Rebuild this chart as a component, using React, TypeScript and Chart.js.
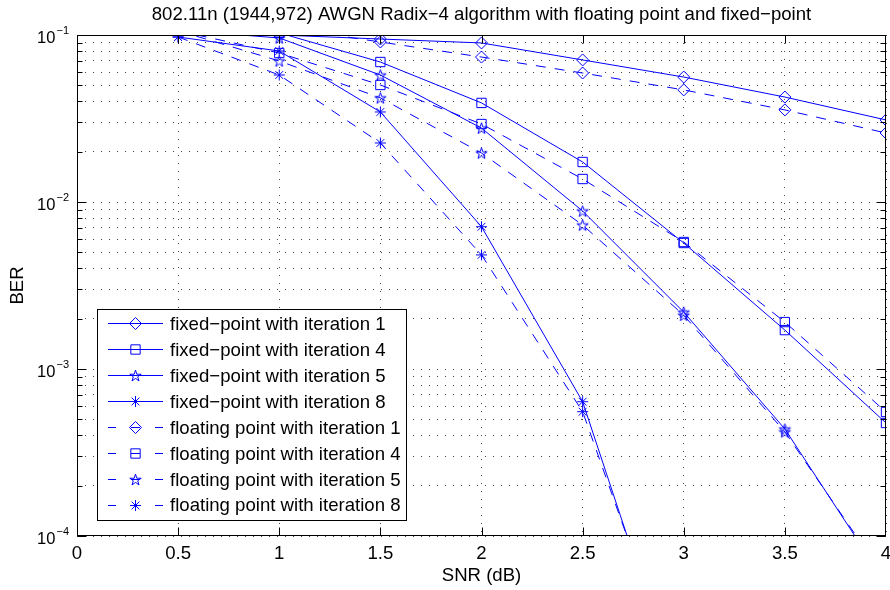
import React, { useEffect, useRef } from 'react';
import { Chart, registerables } from 'chart.js';
import { drawPoint } from 'chart.js/helpers';

Chart.register(...registerables);

// ---- data ----
const snrDb = [0.5, 1, 1.5, 2, 2.5, 3, 3.5, 4];

const fixedIter1 = [0.13, 0.1, 0.0946, 0.0896, 0.0709, 0.056, 0.0425, 0.031];
const fixedIter4 = [0.107, 0.103, 0.0689, 0.0392, 0.01736, 0.00568, 0.00171, 0.000475];
const fixedIter5 = [0.107, 0.096, 0.0576, 0.0277, 0.00883, 0.00219, 0.000437, 0.000052];
const fixedIter8 = [0.0973, 0.0802, 0.0346, 0.00711, 0.000637, 0.0000095, null, null];

const floatIter1 = [0.125, 0.112, 0.0908, 0.0738, 0.0592, 0.0469, 0.0356, 0.0259];
const floatIter4 = [0.106, 0.078, 0.0502, 0.0293, 0.01373, 0.00576, 0.00191, 0.000553];
const floatIter5 = [0.106, 0.0699, 0.042, 0.01965, 0.00728, 0.0021, 0.00042, 0.000055];
const floatIter8 = [0.0973, 0.0576, 0.02256, 0.00482, 0.000555, 0.000011, null, null];

const seriesLabels = [
  'fixed\u2212point with iteration 1',
  'fixed\u2212point with iteration 4',
  'fixed\u2212point with iteration 5',
  'fixed\u2212point with iteration 8',
  'floating point with iteration 1',
  'floating point with iteration 4',
  'floating point with iteration 5',
  'floating point with iteration 8',
];

const xTickValues = [0, 0.5, 1, 1.5, 2, 2.5, 3, 3.5, 4];
const yDecadeExponents = [-1, -2, -3, -4];

const titleText = '802.11n (1944,972) AWGN Radix\u22124 algorithm with floating point and fixed\u2212point';
const xTitle = 'SNR (dB)';
const yTitle = 'BER';

// ---- style ----
const BLUE = '#0000ff';
const FONT = '"Liberation Sans", Arial, Helvetica, sans-serif';
const GRID = 'rgba(40,40,40,0.85)';
const DASH = [10, 9];

function makePentagram(r: number, color: string): HTMLCanvasElement {
  const size = Math.ceil(2 * r + 3);
  const c = document.createElement('canvas');
  c.width = size;
  c.height = size;
  const ctx = c.getContext('2d')!;
  ctx.strokeStyle = color;
  ctx.lineWidth = 1;
  const cx = size / 2;
  const cy = size / 2 + r * 0.1;
  ctx.beginPath();
  for (let i = 0; i < 10; i++) {
    const ang = -Math.PI / 2 + (i * Math.PI) / 5;
    const rr = i % 2 === 0 ? r : r * 0.382;
    const x = cx + rr * Math.cos(ang);
    const y = cy + rr * Math.sin(ang);
    if (i === 0) ctx.moveTo(x, y);
    else ctx.lineTo(x, y);
  }
  ctx.closePath();
  ctx.stroke();
  return c;
}

export default function App() {
  const ref = useRef<HTMLCanvasElement>(null);

  useEffect(() => {
    document.body.style.margin = '0';
    const canvas = ref.current!;
    const pent = makePentagram(6, BLUE);

    const seriesValues = [fixedIter1, fixedIter4, fixedIter5, fixedIter8, floatIter1, floatIter4, floatIter5, floatIter8];
    const markerStyles: any[] = ['rectRot', 'rect', pent, 'star', 'rectRot', 'rect', pent, 'star'];
    const markerRadii = [6, 6.6, 6, 5.5, 6, 6.6, 6, 5.5];

    const datasets = seriesValues.map((vals, i) => ({
      label: seriesLabels[i],
      data: snrDb.map((x, j) => ({ x, y: vals[j] })),
      borderColor: BLUE,
      borderWidth: 1,
      borderDash: i >= 4 ? DASH : [],
      pointStyle: markerStyles[i],
      pointRadius: markerRadii[i],
      pointBorderColor: BLUE,
      pointBackgroundColor: 'rgba(0,0,0,0)',
      pointBorderWidth: 1,
      fill: false,
      tension: 0,
      spanGaps: false,
    }));

    const yGridValues: number[] = [];
    for (let k = -4; k <= -2; k++) {
      for (let m = 1; m <= 9; m++) yGridValues.push(m * Math.pow(10, k));
    }
    yGridValues.push(0.1);

    const decor = {
      id: 'decor',
      afterDatasetsDraw(chart: any) {
        const { ctx, chartArea } = chart;
        const { left, right, top, bottom } = chartArea;
        const xs = chart.scales.x;
        const ys = chart.scales.y;
        ctx.save();
        ctx.strokeStyle = '#000';
        ctx.lineWidth = 1;
        ctx.setLineDash([]);
        const L = Math.round(left) + 0.5;
        const R = Math.round(right) - 0.5;
        const T = Math.round(top) + 0.5;
        const B = Math.round(bottom) - 0.5;
        ctx.beginPath();
        xTickValues.forEach((v) => {
          const px = Math.min(Math.round(xs.getPixelForValue(v)) + 0.5, R);
          ctx.moveTo(px, B);
          ctx.lineTo(px, B - 8);
          ctx.moveTo(px, T);
          ctx.lineTo(px, T + 8);
        });
        yGridValues.forEach((v) => {
          const py = Math.round(ys.getPixelForValue(v)) + 0.5;
          const major = Math.abs(Math.log10(v) - Math.round(Math.log10(v))) < 1e-9;
          const len = major ? 9 : 5;
          ctx.moveTo(L, py);
          ctx.lineTo(L + len, py);
          ctx.moveTo(R, py);
          ctx.lineTo(R - len, py);
        });
        ctx.stroke();
        ctx.strokeRect(L, T, R - L, B - T);
        ctx.restore();
      },
      afterDraw(chart: any) {
        const { ctx, chartArea } = chart;
        const ys = chart.scales.y;
        ctx.save();
        ctx.fillStyle = '#000';
        ctx.font = `18.6px ${FONT}`;
        ctx.textAlign = 'center';
        ctx.textBaseline = 'alphabetic';
        ctx.fillText(titleText, (chartArea.left + chartArea.right) / 2, 20);

        yDecadeExponents.forEach((e) => {
          const py = ys.getPixelForValue(Math.pow(10, e));
          ctx.textAlign = 'right';
          ctx.font = `11px ${FONT}`;
          const expText = '\u2212' + String(-e);
          ctx.fillText(expText, 69, py - 1);
          const ew = ctx.measureText(expText).width;
          ctx.font = `16.5px ${FONT}`;
          ctx.fillText('10', 69 - ew - 1, py + 8.3);
        });

        const bx = 97.5, by = 309.5, bw = 309, bh = 211;
        ctx.fillStyle = '#fff';
        ctx.fillRect(bx, by, bw, bh);
        ctx.strokeStyle = '#000';
        ctx.lineWidth = 1;
        ctx.setLineDash([]);
        ctx.strokeRect(bx, by, bw, bh);
        const rowY0 = 323.3;
        const rowStep = 25.95;
        chart.data.datasets.forEach((ds: any, i: number) => {
          const cy = rowY0 + i * rowStep;
          const lineY = Math.round(cy) + 0.5;
          ctx.strokeStyle = BLUE;
          ctx.lineWidth = 1;
          ctx.beginPath();
          if (i >= 4) {
            ctx.moveTo(108, lineY); ctx.lineTo(116, lineY);
            ctx.moveTo(131, lineY); ctx.lineTo(140, lineY);
            ctx.moveTo(155, lineY); ctx.lineTo(163, lineY);
          } else {
            ctx.moveTo(108, lineY); ctx.lineTo(163, lineY);
          }
          ctx.stroke();
          ctx.fillStyle = 'rgba(0,0,0,0)';
          drawPoint(ctx, {
            pointStyle: ds.pointStyle,
            radius: ds.pointRadius,
            rotation: 0,
            borderWidth: 1,
          } as any, 135.5, lineY);
          ctx.fillStyle = '#000';
          ctx.font = `18.6px ${FONT}`;
          ctx.textAlign = 'left';
          ctx.textBaseline = 'alphabetic';
          ctx.fillText(ds.label, 170, cy + 6.5);
        });
        ctx.restore();
      },
    };

    const chart = new Chart(canvas, {
      type: 'line',
      data: { datasets: datasets as any },
      options: {
        responsive: false,
        animation: false,
        devicePixelRatio: 1,
        layout: { autoPadding: false, padding: { top: 35, right: 4, left: 0, bottom: 0 } },
        plugins: {
          legend: { display: false },
          title: { display: false },
          tooltip: { enabled: false },
        },
        scales: {
          x: {
            type: 'linear',
            min: 0,
            max: 4,
            afterBuildTicks: (s: any) => {
              s.ticks = xTickValues.map((v) => ({ value: v }));
            },
            afterFit: (s: any) => {
              s.height = 54;
              s.paddingLeft = 0;
              s.paddingRight = 0;
            },
            ticks: {
              font: { family: FONT, size: 18.6 },
              color: '#000',
              padding: 7,
              maxRotation: 0,
              autoSkip: false,
              callback: (v: any) => String(v),
            },
            grid: { color: GRID, lineWidth: 1, drawTicks: false },
            border: { display: false, dash: [1, 7] },
            title: {
              display: true,
              text: xTitle,
              font: { family: FONT, size: 18.6 },
              color: '#000',
              padding: { top: 0, bottom: 3 },
            },
          },
          y: {
            type: 'logarithmic',
            min: 1e-4,
            max: 1e-1,
            afterBuildTicks: (s: any) => {
              s.ticks = yGridValues.map((v) => ({ value: v }));
            },
            afterFit: (s: any) => {
              s.width = 77;
              s.paddingTop = 0;
              s.paddingBottom = 0;
            },
            ticks: { display: false },
            grid: { color: GRID, lineWidth: 1, drawTicks: false },
            border: { display: false, dash: [1, 7] },
            title: {
              display: true,
              text: yTitle,
              font: { family: FONT, size: 18.6 },
              color: '#000',
              padding: { top: 7, bottom: 0 },
            },
          },
        },
      } as any,
      plugins: [decor],
    });

    return () => chart.destroy();
  }, []);

  return (
    <div style={{ width: 890, height: 590 }}>
      <canvas ref={ref} width={890} height={590} style={{ display: 'block' }} />
    </div>
  );
}
